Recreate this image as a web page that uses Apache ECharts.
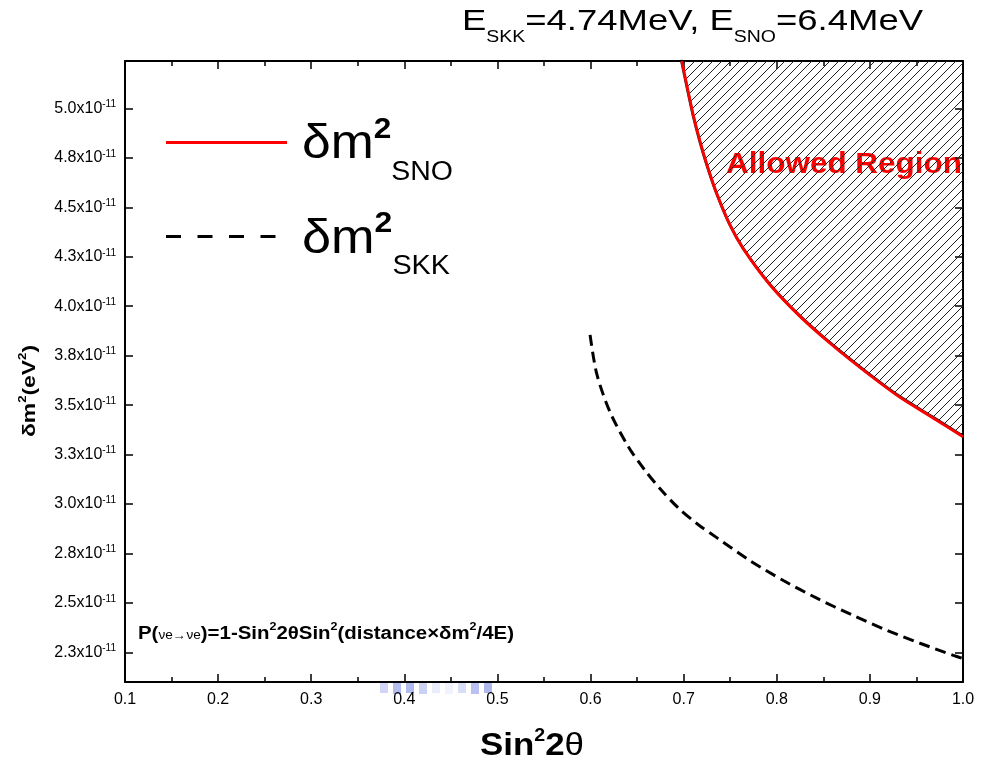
<!DOCTYPE html>
<html><head><meta charset="utf-8">
<script src="https://cdn.jsdelivr.net/npm/echarts@6/dist/echarts.min.js"></script>
<style>html,body{margin:0;padding:0;background:#fff}#c{width:984px;height:769px}</style>
</head><body><div id="c"></div>
<script>
// ---- data (delta m^2 values in units of 1e-11 eV^2) ----
const xTicks = [0.1, 0.2, 0.3, 0.4, 0.5, 0.6, 0.7, 0.8, 0.9, 1.0];
const xTickLabels = ['0.1', '0.2', '0.3', '0.4', '0.5', '0.6', '0.7', '0.8', '0.9', '1.0'];
const yTicks = [2.25, 2.5, 2.75, 3.0, 3.25, 3.5, 3.75, 4.0, 4.25, 4.5, 4.75, 5.0];
const yTickLabels = ['2.3', '2.5', '2.8', '3.0', '3.3', '3.5', '3.8', '4.0', '4.3', '4.5', '4.8', '5.0'];
const yExponent = '-11';
const snoX = [0.698, 0.7033, 0.7104, 0.7176, 0.7248, 0.7355, 0.7498, 0.7641, 0.7924, 0.8246, 0.8604, 0.8962, 0.932, 0.9678, 1.0];
const snoY = [5.24, 5.120, 4.965, 4.833, 4.718, 4.570, 4.410, 4.290, 4.110, 3.950, 3.800, 3.665, 3.540, 3.435, 3.340];
const skkX = [0.5995, 0.6066, 0.6209, 0.6406, 0.6585, 0.6764, 0.6943, 0.7158, 0.7355, 0.7712, 0.8071, 0.8446, 0.8805, 0.918, 0.9538, 0.9896, 1.0];
const skkY = [3.855, 3.659, 3.465, 3.290, 3.170, 3.068, 2.980, 2.895, 2.830, 2.714, 2.613, 2.520, 2.440, 2.362, 2.296, 2.235, 2.218];

const FONT = '"Liberation Sans", Arial, sans-serif';
const mctx = document.createElement('canvas').getContext('2d');
function tw(t, size, bold) { mctx.font = (bold ? 'bold ' : '') + size + 'px "Liberation Sans", Arial, sans-serif'; return mctx.measureText(t).width; }
// build a run of text pieces (baseline-relative), stretched to span x0..x1
function run(pieces, x0, x1, baseY, extra) {
  let x = 0; const kids = [];
  pieces.forEach(p => {
    const w = tw(p.t, p.size, p.bold);
    kids.push({ type: 'text', x: x, y: (p.dy || 0) - 0.35 * p.size,
      style: { text: p.t, fill: p.color || '#000', font: (p.bold ? 'bold ' : '') + p.size + 'px ' + FONT,
               textAlign: 'left', textVerticalAlign: 'middle', verticalAlign: 'middle' } });
    x += w;
  });
  const s = (x1 - x0) / x;
  return Object.assign({ type: 'group', x: x0, y: baseY, scaleX: s, children: kids }, extra || {});
}

// hatch pattern
const pat = document.createElement('canvas'); pat.width = 9; pat.height = 9;
const pc = pat.getContext('2d'); pc.strokeStyle = '#222'; pc.lineWidth = 1;
pc.beginPath(); pc.moveTo(0, 9); pc.lineTo(9, 0); pc.moveTo(-1, 1); pc.lineTo(1, -1); pc.moveTo(8, 10); pc.lineTo(10, 8); pc.stroke();

const sno = snoX.map((v, i) => [v, snoY[i]]);
const skk = skkX.map((v, i) => [v, skkY[i]]);

const axisLineStyle = { lineStyle: { color: '#000', width: 2 } };
const tickIn = { inside: true, length: 8, lineStyle: { color: '#000', width: 1.5 } };
const minorIn = { show: true, splitNumber: 2, length: 5, lineStyle: { color: '#000', width: 1.5 } };

const chart = echarts.init(document.getElementById('c'), null, { renderer: 'canvas' });
chart.setOption({
  animation: false,
  backgroundColor: '#fff',
  grid: { left: 125, right: 21, top: 61, bottom: 87 },
  xAxis: [
    { type: 'value', min: 0.1, max: 1.0, interval: 0.1, position: 'bottom',
      axisLine: axisLineStyle, axisTick: tickIn, minorTick: minorIn, splitLine: { show: false },
      axisLabel: { fontSize: 16, fontFamily: FONT, color: '#000', margin: 10,
        formatter: v => { const i = xTicks.findIndex(t => Math.abs(t - v) < 1e-6); return i >= 0 ? xTickLabels[i] : ''; } } },
    { type: 'value', min: 0.1, max: 1.0, interval: 0.1, position: 'top',
      axisLine: axisLineStyle, axisTick: tickIn, minorTick: minorIn, splitLine: { show: false }, axisLabel: { show: false } }
  ],
  yAxis: [
    { type: 'value', min: 2.1, max: 5.24, position: 'left',
      axisLine: axisLineStyle, axisTick: Object.assign({ customValues: yTicks }, tickIn), splitLine: { show: false },
      axisLabel: { customValues: yTicks, margin: 9, color: '#000',
        formatter: v => { const i = yTicks.findIndex(t => Math.abs(t - v) < 1e-6); return '{a|' + yTickLabels[i] + 'x10}{s|' + yExponent + '}'; },
        rich: { a: { fontSize: 16, fontFamily: FONT, color: '#000', lineHeight: 18 },
                s: { fontSize: 10, fontFamily: FONT, color: '#000', verticalAlign: 'top', lineHeight: 10 } } } },
    { type: 'value', min: 2.1, max: 5.24, position: 'right',
      axisLine: axisLineStyle, axisTick: Object.assign({ customValues: yTicks }, tickIn), splitLine: { show: false },
      axisLabel: { show: false } }
  ],
  series: [
    { type: 'line', name: 'SNO', data: sno, smooth: 0.3, showSymbol: false, z: 3,
      lineStyle: { color: '#ff0000', width: 2.8, shadowColor: 'rgba(0,0,0,0.85)', shadowBlur: 0, shadowOffsetY: -1.2, shadowOffsetX: -0.6 },
      areaStyle: { origin: 'end', color: { image: pat, repeat: 'repeat' }, opacity: 1 } },
    { type: 'line', name: 'SKK', data: skk, smooth: 0.3, showSymbol: false, z: 3,
      lineStyle: { color: '#000', width: 3, type: [11, 6] } }
  ],
  graphic: [
    // top title
    run([{ t: 'E', size: 30 }, { t: 'SKK', size: 16, dy: 11 }, { t: '=4.74MeV, E', size: 30 },
         { t: 'SNO', size: 16, dy: 11 }, { t: '=6.4MeV', size: 30 }], 462, 923, 32),
    // legend
    { type: 'line', shape: { x1: 166, y1: 142.5, x2: 287, y2: 142.5 }, style: { stroke: '#ff0000', lineWidth: 3 } },
    run([{ t: 'δm', size: 49 }, { t: '2', size: 30, bold: true, dy: -22 }, { t: 'SNO', size: 27, dy: 20 }], 302, 453, 162),
    { type: 'line', shape: { x1: 166, y1: 236.5, x2: 278, y2: 236.5 }, style: { stroke: '#000', lineWidth: 3, lineDash: [15, 16.5] } },
    run([{ t: 'δm', size: 49 }, { t: '2', size: 30, bold: true, dy: -23 }, { t: 'SKK', size: 27, dy: 19 }], 302, 450, 257),
    // allowed region label
    run([{ t: 'Allowed Region', size: 30, bold: true, color: '#ff0000' }], 726, 962, 175),
    // formula
    run([{ t: 'P(', size: 18, bold: true }, { t: 'νe→νe', size: 12 }, { t: ')=1-Sin', size: 18, bold: true },
         { t: '2', size: 11, bold: true, dy: -9 }, { t: '2θSin', size: 18, bold: true }, { t: '2', size: 11, bold: true, dy: -9 },
         { t: '(distance×δm', size: 18, bold: true }, { t: '2', size: 11, bold: true, dy: -9 }, { t: '/4E)', size: 18, bold: true }],
        138, 514, 640),
    // x-axis title
    run([{ t: 'Sin', size: 32, bold: true }, { t: '2', size: 18, bold: true, dy: -15 }, { t: '2', size: 32, bold: true }, { t: 'θ', size: 32 }],
        480, 584, 757),
    // y-axis title (rotated)
    run([{ t: 'δm', size: 19, bold: true }, { t: '2', size: 11, bold: true, dy: -9 }, { t: '(eV', size: 19, bold: true },
         { t: '2', size: 11, bold: true, dy: -9 }, { t: ')', size: 19, bold: true }], 0, 92, 0, { x: 36, y: 437, rotation: Math.PI / 2 }),
    // faint blue watermark artefact under the axis
    { type: 'group', x: 380, y: 683, children: [0, 1, 2, 3, 4, 5, 6, 7, 8].map(i => ({
        type: 'rect', shape: { x: i * 13, y: 0, width: 8, height: 10 + (i % 2) },
        style: { fill: 'rgba(120,135,225,' + (0.35 + 0.25 * Math.sin(i)) + ')' } })) }
  ]
});
</script></body></html>
